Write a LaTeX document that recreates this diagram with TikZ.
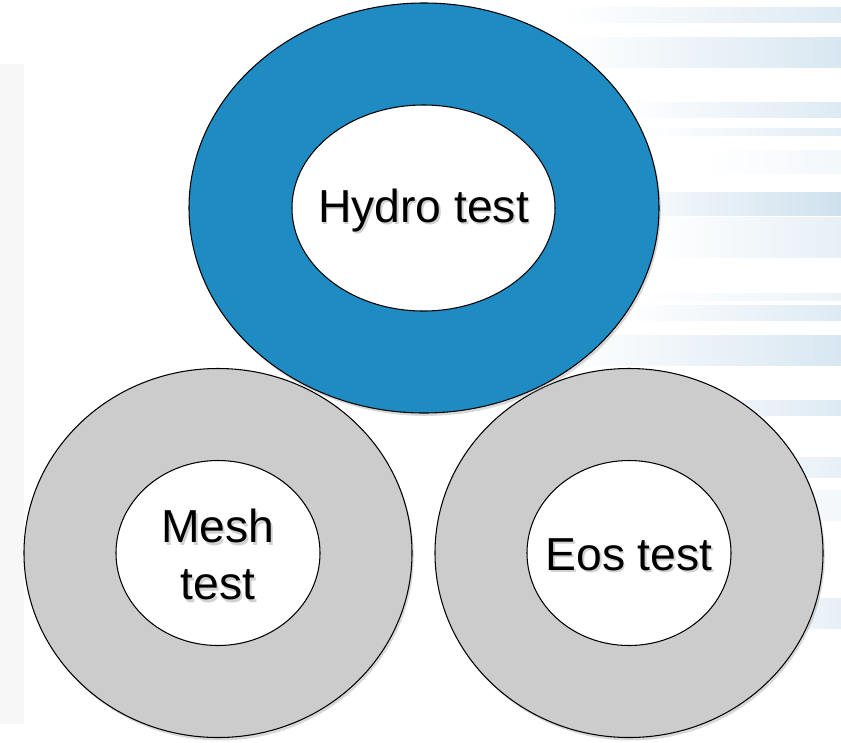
\documentclass[tikz,border=0pt]{standalone}
\usepackage{fontspec}
\setmainfont{Liberation Sans}
\usetikzlibrary{shapes.geometric, shadows}

\definecolor{hydroblue}{HTML}{1E8BC3}
\definecolor{ringgray}{HTML}{CCCCCC}
\definecolor{stripeblue}{HTML}{CFE1EE}
\definecolor{panelgray}{HTML}{F7F7F7}

% text sits a little below the ring centre, with a soft shadow
\newcommand{\ringtab}[1]{\begin{tabular}{@{}c@{}}#1\end{tabular}}
\newcommand{\ringlabel}[2][5pt]{\makebox[0pt]{\raisebox{-#1}[\height][\depth]{%
  \rlap{\kern1.5pt\raisebox{-2pt}{\color{black!18}\ringtab{#2}}}\ringtab{#2}}}}

\begin{document}
\begin{tikzpicture}[x=0.03cm, y=-0.03cm, every node/.style={font=\fontsize{39.5}{48.5}\selectfont}]
  \tikzset{ring/.style={ellipse, draw=black, line width=0.9pt, inner sep=0pt,
      drop shadow={opacity=0.3, shadow xshift=1.5pt, shadow yshift=-2.5pt}},
    core/.style={ellipse, draw=black, line width=0.9pt, fill=white, inner sep=0pt}}
  \useasboundingbox (0,0) rectangle (841,742);

  % background panel and stripes
  \fill[panelgray] (0,64) rectangle (24,724);
  \foreach \ya/\yb/\xa/\p in {7/22/560/70, 37/67/560/80, 102/117/620/70, 128/135/640/60,
      150/173/700/25, 192/215/600/100, 217/257/650/50, 293/300/640/40, 305/320/620/70,
      335/365/560/80, 400/415/640/70, 457/477/700/50, 490/520/720/25, 598/628/720/50}
    \shade[left color=white, right color=stripeblue!\p!white] (\xa,\ya) rectangle (841,\yb);

  % lower rings
  \node[ring, fill=ringgray, minimum width=11.64cm, minimum height=11.07cm] (meshring) at (218,553) {};
  \node[ring, fill=ringgray, minimum width=11.64cm, minimum height=11.07cm] (eosring) at (629,553) {};
  \node[core, minimum width=6.12cm, minimum height=5.55cm] (mesh) at (218,553) {\ringlabel[7pt]{Mesh\\test}};
  \node[core, minimum width=6.12cm, minimum height=5.55cm] (eos) at (629,553) {\ringlabel[6pt]{Eos test}};

  % top ring
  \node[ring, fill=hydroblue, minimum width=14.1cm, minimum height=12.3cm] (hydroring) at (424,208) {};
  \node[core, minimum width=7.89cm, minimum height=6.18cm] (hydro) at (423.5,208) {\ringlabel[3.5pt]{Hydro test}};
\end{tikzpicture}
\end{document}
